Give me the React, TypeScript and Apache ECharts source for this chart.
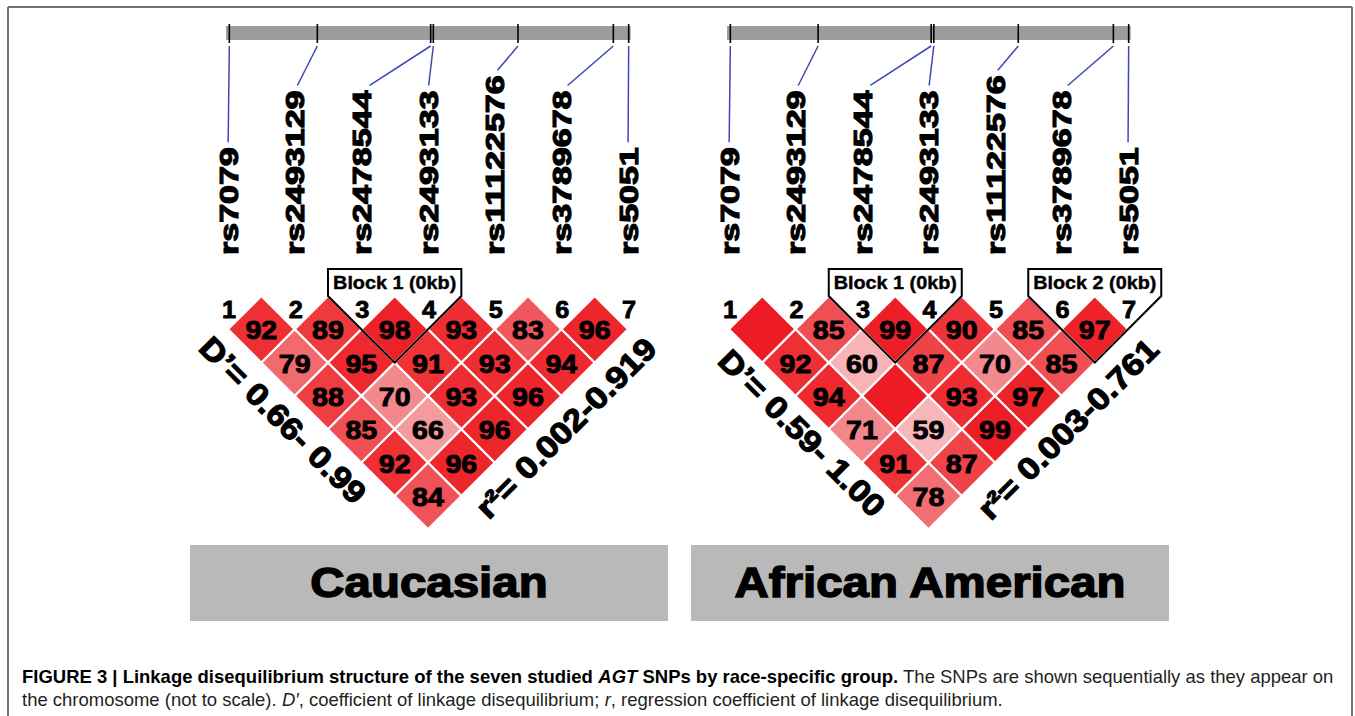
import React, { useEffect, useRef } from "react";
import * as echarts from "echarts";

// ---------- data ----------
const snpNames = ["rs7079", "rs2493129", "rs2478544", "rs2493133", "rs11122576", "rs3789678", "rs5051"];
const snpNumbers = ["1", "2", "3", "4", "5", "6", "7"];
// relative position of each SNP on the chromosome bar (not to scale), in SNP-slot units
const snpMapPos = [0.02, 1.34, 3.04, 3.08, 4.35, 5.78, 6.01];
const chromosomeSpan = [-0.03, 6.04];

// D' x 100, rows by SNP distance (row 0 = adjacent pairs). 100 = D' of 1.00 (cell drawn without a number)
const caucasianDprime = [
  [92, 89, 98, 93, 83, 96],
  [79, 95, 91, 93, 94],
  [88, 70, 93, 96],
  [85, 66, 96],
  [92, 96],
  [84],
];
const africanAmericanDprime = [
  [100, 85, 99, 90, 85, 97],
  [92, 60, 87, 70, 85],
  [94, 100, 93, 97],
  [71, 59, 99],
  [91, 87],
  [78],
];
// haplotype blocks: [first SNP, last SNP, length in kb]
const caucasianBlocks = [[3, 4, 0]];
const africanAmericanBlocks = [[3, 4, 0], [6, 7, 0]];

const panelTitles = ["Caucasian", "African American"];
const dprimeRanges = ["D\u2019= 0.66- 0.99", "D\u2019= 0.59- 1.00"];
const r2Ranges = ["r\u00b2= 0.002-0.919", "r\u00b2= 0.003-0.761"];

const captionLine1 = [
  { text: "FIGURE 3 | Linkage disequilibrium structure of the seven studied ", weight: "bold", style: "normal" },
  { text: "AGT", weight: "bold", style: "italic" },
  { text: " SNPs by race-specific group.", weight: "bold", style: "normal" },
  { text: " The SNPs are shown sequentially as they appear on", weight: "normal", style: "normal" },
];
const captionLine2 = [
  { text: "the chromosome (not to scale). ", weight: "normal", style: "normal" },
  { text: "D\u2032", weight: "normal", style: "italic" },
  { text: ", coefficient of linkage disequilibrium; ", weight: "normal", style: "normal" },
  { text: "r", weight: "normal", style: "italic" },
  { text: ", regression coefficient of linkage disequilibrium.", weight: "normal", style: "normal" },
];

// ---------- layout ----------
const FONT = '"Liberation Sans", Arial, Helvetica, sans-serif';
const CAPTION_SIZE = 18.5;
const LAYOUT = {
  gridTop: 296,
  rowPx: 33.333,
  barTop: 26,
  barH: 14,
  tickTop: 24,
  tickBottom: 43,
  connectorTop: 46,
  labelBase: 255,
  numberY: 310,
  blockBoxH: 27,
};
const panels = [
  { left: 228, width: 400, dX: 283, dY: 420, rX: 566, rY: 428, box: { x: 190, w: 478 } },
  { left: 729, width: 399, dX: 802, dY: 433, rX: 1068, rY: 429, box: { x: 691, w: 478 } },
];
const LABEL_FONT = `bold 25px ${FONT}`;
const LABEL_SCALE = 1.36;

let measureCtx: CanvasRenderingContext2D | null = null;
function textWidth(text: string, font: string) {
  if (!measureCtx) measureCtx = document.createElement("canvas").getContext("2d");
  measureCtx!.font = font;
  return measureCtx!.measureText(text).width;
}

function cellData(rows: number[][]) {
  const out: number[][] = [];
  rows.forEach((row, d) => row.forEach((v, k) => out.push([k, k + d + 1, v])));
  return out;
}

function renderCell(params: any, api: any) {
  const i = api.value(0);
  const j = api.value(1);
  const v = api.value(2);
  const cx = (i + j) / 2;
  const d = j - i;
  const c = api.coord([cx, d]);
  const t = api.coord([cx, d - 1]);
  const b = api.coord([cx, d + 1]);
  const l = api.coord([cx - 0.5, d]);
  const r = api.coord([cx + 0.5, d]);
  const children: any[] = [
    {
      type: "polygon",
      shape: { points: [t, r, b, l] },
      style: { fill: api.visual("color"), stroke: "#ffffff", lineWidth: 2.2 },
    },
  ];
  if (v < 100) {
    children.push({
      type: "text",
      x: c[0],
      y: c[1] + 1,
      scaleX: 1.1,
      style: {
        text: String(v),
        font: `bold 26px ${FONT}`,
        fill: "#000",
        stroke: "#000",
        lineWidth: 0.9,
        textAlign: "center",
        textVerticalAlign: "middle",
      },
    });
  }
  return { type: "group", children };
}

function renderSnp(params: any, api: any) {
  const i = api.value(0);
  const p = api.value(1);
  const labelX = api.coord([i, 0])[0];
  const tickX = api.coord([p, 0])[0];
  const name = snpNames[params.dataIndex];
  const lw = textWidth(name, LABEL_FONT) * LABEL_SCALE;
  const labelTop = LAYOUT.labelBase - lw;
  const endX = labelX + 0.12 * (tickX - labelX);
  const children: any[] = [];
  if (params.dataIndex === 0) {
    const b0 = api.coord([chromosomeSpan[0], 0])[0];
    const b1 = api.coord([chromosomeSpan[1], 0])[0];
    children.push({
      type: "rect",
      shape: { x: b0, y: LAYOUT.barTop, width: b1 - b0, height: LAYOUT.barH },
      style: { fill: "#9c9c9c" },
    });
  }
  children.push({
    type: "line",
    shape: { x1: tickX, y1: LAYOUT.tickTop, x2: tickX, y2: LAYOUT.tickBottom },
    style: { stroke: "#000", lineWidth: 1.6 },
  });
  children.push({
    type: "line",
    shape: { x1: tickX, y1: LAYOUT.connectorTop, x2: endX, y2: labelTop - 5 },
    style: { stroke: "#3f47b8", lineWidth: 1.5 },
  });
  children.push({
    type: "text",
    x: labelX + 1,
    y: LAYOUT.labelBase,
    rotation: Math.PI / 2,
    scaleX: LABEL_SCALE,
    style: {
      text: name,
      font: LABEL_FONT,
      fill: "#000",
      stroke: "#000",
      lineWidth: 1.1,
      textAlign: "left",
      textVerticalAlign: "middle",
    },
  });
  children.push({
    type: "text",
    x: labelX + 1,
    y: LAYOUT.numberY,
    scaleX: 1.1,
    style: {
      text: snpNumbers[params.dataIndex],
      font: `bold 23px ${FONT}`,
      fill: "#000",
      stroke: "#000",
      lineWidth: 0.8,
      textAlign: "center",
      textVerticalAlign: "middle",
    },
  });
  return { type: "group", children };
}

function renderBlock(params: any, api: any) {
  const s = api.value(0);
  const e = api.value(1);
  const kb = api.value(2);
  const tl = api.coord([s - 0.5, 0]);
  const tr = api.coord([e + 0.5, 0]);
  const bottom = api.coord([(s + e) / 2, e - s + 1]);
  const boxTop = tl[1] - LAYOUT.blockBoxH;
  return {
    type: "group",
    children: [
      {
        type: "polygon",
        shape: { points: [[tl[0], boxTop], [tr[0], boxTop], tr, bottom, tl] },
        style: { fill: "none", stroke: "#000", lineWidth: 2 },
      },
      {
        type: "text",
        x: (tl[0] + tr[0]) / 2,
        y: boxTop + 14,
        scaleX: 1.1,
        style: {
          text: `Block ${params.dataIndex + 1} (${kb}kb)`,
          font: `bold 18px ${FONT}`,
          fill: "#000",
          stroke: "#000",
          lineWidth: 0.4,
          textAlign: "center",
          textVerticalAlign: "middle",
        },
      },
    ],
  };
}

function captionElements(segments: any[], y: number, scale: number) {
  const els: any[] = [];
  let x = 22;
  segments.forEach((seg) => {
    const font = `${seg.style} ${seg.weight} ${CAPTION_SIZE}px ${FONT}`;
    els.push({
      type: "text",
      x,
      y,
      scaleX: scale,
      style: {
        text: seg.text,
        font,
        fill: seg.weight === "bold" ? "#000" : "#231f20",
        textAlign: "left",
        textVerticalAlign: "middle",
      },
    });
    x += textWidth(seg.text, font) * scale;
  });
  return els;
}

export default function App() {
  const ref = useRef<HTMLDivElement>(null);
  useEffect(() => {
    const el = ref.current!;
    const chart = echarts.init(el, null, { renderer: "svg" });

    const dprimeSets = [caucasianDprime, africanAmericanDprime];
    const blockSets = [caucasianBlocks, africanAmericanBlocks];

    const line1W = captionLine1.reduce(
      (a, s) => a + textWidth(s.text, `${s.style} ${s.weight} ${CAPTION_SIZE}px ${FONT}`),
      0
    );
    const capScale = 1312 / line1W;

    const bigText = (text: string, x: number, y: number, rotation: number) => ({
      type: "text",
      x,
      y,
      rotation,
      scaleX: 1.12,
      style: {
        text,
        font: `bold 31px ${FONT}`,
        fill: "#000",
        stroke: "#000",
        lineWidth: 1.2,
        textAlign: "center",
        textVerticalAlign: "middle",
      },
    });

    const graphics: any[] = [
      { type: "line", shape: { x1: 8, y1: 7, x2: 1352, y2: 7 }, style: { stroke: "#707070", lineWidth: 2 } },
      { type: "line", shape: { x1: 8, y1: 7, x2: 8, y2: 716 }, style: { stroke: "#707070", lineWidth: 2 } },
      { type: "line", shape: { x1: 1352, y1: 7, x2: 1352, y2: 716 }, style: { stroke: "#707070", lineWidth: 2 } },
    ];
    panels.forEach((p, k) => {
      graphics.push({
        type: "rect",
        shape: { x: p.box.x, y: 545, width: p.box.w, height: 76 },
        style: { fill: "#b9b9b9" },
      });
      graphics.push({
        type: "text",
        x: p.box.x + p.box.w / 2,
        y: 582,
        scaleX: 1.13,
        style: {
          text: panelTitles[k],
          font: `bold 42px ${FONT}`,
          fill: "#000",
          stroke: "#000",
          lineWidth: 1.4,
          textAlign: "center",
          textVerticalAlign: "middle",
        },
      });
      graphics.push(bigText(dprimeRanges[k], p.dX, p.dY, -Math.PI / 4));
      graphics.push(bigText(r2Ranges[k], p.rX, p.rY, Math.PI / 4));
    });
    graphics.push(...captionElements(captionLine1, 676, capScale));
    graphics.push(...captionElements(captionLine2, 699, capScale));

    const option: any = {
      animation: false,
      backgroundColor: "#ffffff",
      grid: panels.map((p) => ({
        left: p.left,
        top: LAYOUT.gridTop,
        width: p.width,
        height: LAYOUT.rowPx * 7,
        containLabel: false,
      })),
      xAxis: panels.map((_, k) => ({ gridIndex: k, type: "value", min: 0, max: 6, show: false })),
      yAxis: panels.map((_, k) => ({ gridIndex: k, type: "value", min: 0, max: 7, inverse: true, show: false })),
      visualMap: {
        show: false,
        type: "continuous",
        seriesIndex: [0, 1],
        dimension: 2,
        min: 50,
        max: 100,
        inRange: { color: ["#fad3d5", "#f7b3b6", "#f3898d", "#f0676b", "#ee3438", "#ed1c24"] },
      },
      series: [
        ...dprimeSets.map((rows, k) => ({
          type: "custom",
          name: panelTitles[k] + " D'",
          coordinateSystem: "cartesian2d",
          xAxisIndex: k,
          yAxisIndex: k,
          clip: false,
          data: cellData(rows),
          renderItem: renderCell,
        })),
        ...blockSets.map((blocks, k) => ({
          type: "custom",
          name: panelTitles[k] + " blocks",
          coordinateSystem: "cartesian2d",
          xAxisIndex: k,
          yAxisIndex: k,
          clip: false,
          data: blocks.map((b) => [b[0] - 1, b[1] - 1, b[2]]),
          renderItem: renderBlock,
        })),
        ...panels.map((_, k) => ({
          type: "custom",
          name: panelTitles[k] + " SNPs",
          coordinateSystem: "cartesian2d",
          xAxisIndex: k,
          yAxisIndex: k,
          clip: false,
          data: snpMapPos.map((pos, i) => [i, pos]),
          renderItem: renderSnp,
        })),
      ],
      graphic: { elements: graphics },
    };
    chart.setOption(option);
    return () => chart.dispose();
  }, []);
  return (
    <div
      ref={ref}
      style={{ position: "absolute", left: 0, top: 0, width: 1355, height: 716, background: "#fff" }}
    />
  );
}
